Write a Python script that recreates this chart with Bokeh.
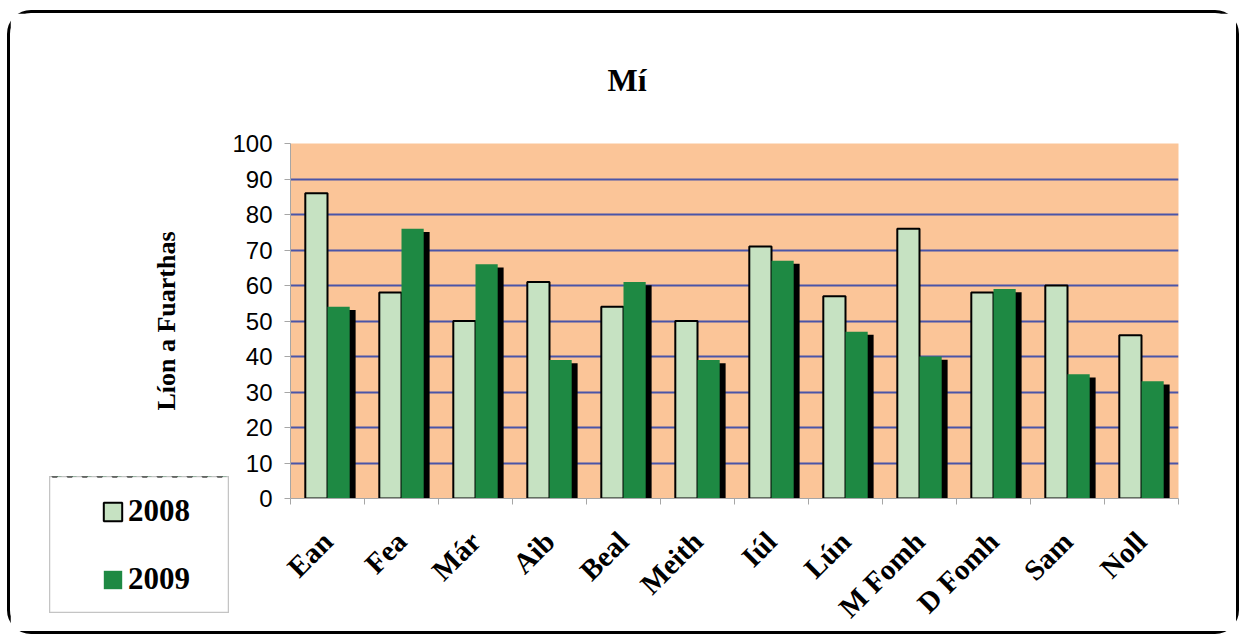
import math
from bokeh.plotting import figure
from bokeh.models import (Range1d, FixedTicker, Legend, LegendItem, ColumnDataSource)
from bokeh.transform import dodge
from bokeh.embed import file_html
from bokeh.resources import INLINE

# ---- data ----
months = ["Ean", "Fea", "Már", "Aib", "Beal", "Meith", "Iúl", "Lún",
          "M Fomh", "D Fomh", "Sam", "Noll"]
y2008 = [86, 58, 50, 61, 54, 50, 71, 57, 76, 58, 60, 46]
y2009 = [54, 76, 66, 39, 61, 39, 67, 47, 40, 59, 35, 33]
series_names = ["2008", "2009"]
yticks = [0, 10, 20, 30, 40, 50, 60, 70, 80, 90, 100]
title_text = "Mí"
ylabel_text = "Líon a Fuarthas"

# ---- derived ----
centers = [i + 0.5 for i in range(len(months))]
bounds = list(range(len(months) + 1))
src = ColumnDataSource(dict(c=centers, y8=y2008, y9=y2009,
                            sh=[v - 0.9 for v in y2009]))

SERIF = "Liberation Serif"
SANS = "Liberation Sans"
C2008 = "#C6E2C2"
C2009 = "#1E8943"

p = figure(width=1232, height=624,
           x_range=Range1d(0, len(months)), y_range=Range1d(0, 100),
           output_backend="svg", toolbar_location=None,
           min_border_left=280, min_border_right=64,
           min_border_top=130, min_border_bottom=137,
           background_fill_color="#FBC598", border_fill_color="white",
           outline_line_color=None)
# rounded outer frame of the chart
p.styles = {"margin-left": "7px", "margin-top": "10px",
            "border": "3px solid black", "border-radius": "24px"}

# bars
p.vbar(x=dodge("c", -0.15, range=p.x_range), top="y8", bottom=0, width=0.3,
       source=src, fill_color=C2008, line_color="black", line_width=2)
p.vbar(x=dodge("c", 0.23, range=p.x_range), top="sh", bottom=0, width=0.3,
       source=src, fill_color="black", line_color=None)
p.vbar(x=dodge("c", 0.15, range=p.x_range), top="y9", bottom=0, width=0.3,
       source=src, fill_color=C2009, line_color=None)

# grid
p.xgrid.grid_line_color = None
p.ygrid.ticker = FixedTicker(ticks=yticks)
p.ygrid.grid_line_color = "#4A55A8"
p.ygrid.grid_line_width = 2

# y axis
p.yaxis.ticker = FixedTicker(ticks=yticks)
p.yaxis.major_label_text_font = SANS
p.yaxis.major_label_text_font_size = "24px"
p.yaxis.major_label_text_color = "black"
p.yaxis.axis_line_color = "#A6A6A6"
p.yaxis.major_tick_line_color = "#A6A6A6"
p.yaxis.major_tick_out = 6
p.yaxis.major_tick_in = 0
p.yaxis.minor_tick_line_color = None
p.yaxis.major_label_standoff = 12
p.yaxis.axis_label = ylabel_text
p.yaxis.axis_label_text_font = SERIF
p.yaxis.axis_label_text_font_style = "bold"
p.yaxis.axis_label_text_font_size = "26px"
p.yaxis.axis_label_text_color = "black"
p.yaxis.axis_label_standoff = 48

# x axis
p.xaxis.ticker = FixedTicker(ticks=centers, minor_ticks=bounds)
p.xaxis.major_label_overrides = {c: m for c, m in zip(centers, months)}
p.xaxis.major_tick_line_color = None
p.xaxis.major_tick_out = 0
p.xaxis.major_tick_in = 0
p.xaxis.minor_tick_line_color = "#A6A6A6"
p.xaxis.minor_tick_out = 6
p.xaxis.minor_tick_in = 0
p.xaxis.axis_line_color = "#A6A6A6"
p.xaxis.major_label_orientation = math.pi / 4
p.xaxis.major_label_text_font = SERIF
p.xaxis.major_label_text_font_style = "bold"
p.xaxis.major_label_text_font_size = "29px"
p.xaxis.major_label_text_color = "black"
p.xaxis.major_label_standoff = 32

# title
p.title.text = title_text
p.title.align = "left"
p.title.offset = 317
p.title.text_font = SERIF
p.title.text_font_style = "bold"
p.title.text_font_size = "32px"
p.title.text_color = "black"
p.title.standoff = 91

# ---- legend panel: a small figure laid over the chart's lower-left corner ----
pl = figure(width=180, height=137,
            x_range=Range1d(0, len(months)), y_range=Range1d(-20, -10),
            output_backend="svg", toolbar_location=None,
            x_axis_type=None, y_axis_type=None,
            min_border_left=0, min_border_right=0,
            min_border_top=0, min_border_bottom=0,
            background_fill_color="white", border_fill_color="white",
            outline_line_color="#C4C4C4", outline_line_width=1.5)
pl.title = None
pl.styles = {"position": "absolute", "left": "49px", "top": "476px",
             "z-index": "10"}
lr8 = pl.vbar(x=dodge("c", -0.15, range=pl.x_range), top="y8", bottom=0,
              width=0.3, source=src, fill_color=C2008, line_color="black",
              line_width=2)
lr9 = pl.vbar(x=dodge("c", 0.15, range=pl.x_range), top="y9", bottom=0,
              width=0.3, source=src, fill_color=C2009, line_color=None)
legend = Legend(items=[LegendItem(label=series_names[0], renderers=[lr8]),
                       LegendItem(label=series_names[1], renderers=[lr9])],
                location=(52, 3), glyph_width=23, glyph_height=23,
                label_height=62, label_width=97, label_standoff=4,
                spacing=6, padding=0, margin=0,
                border_line_color=None, background_fill_alpha=0,
                label_text_font=SERIF, label_text_font_style="bold",
                label_text_font_size="31px", label_text_color="black",
                label_text_baseline="hanging")
pl.add_layout(legend)

open("out.html", "w").write(file_html([p, pl], INLINE))
